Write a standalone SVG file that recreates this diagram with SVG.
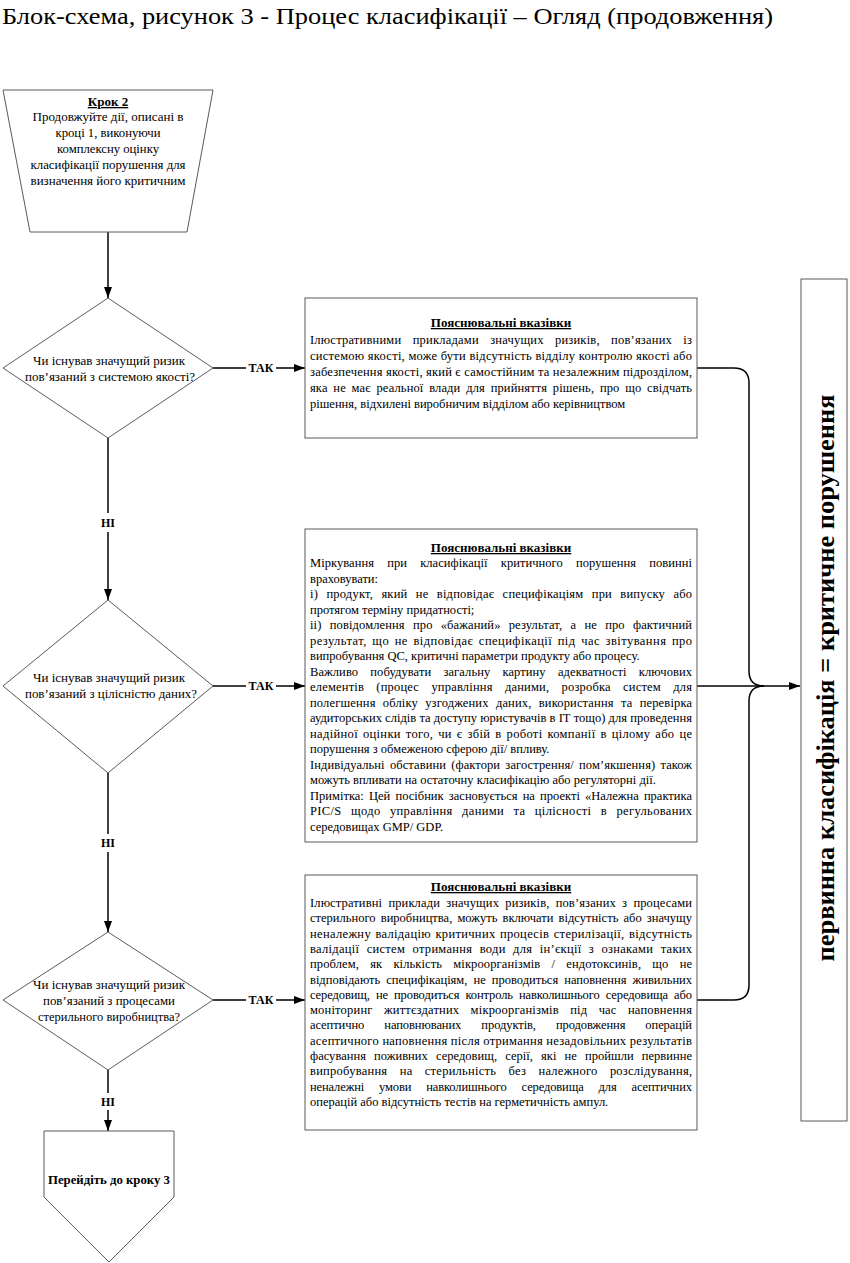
<svg xmlns="http://www.w3.org/2000/svg" width="850" height="1263" viewBox="0 0 850 1263">
<defs>
<marker id="ah" markerWidth="11" markerHeight="8" refX="11" refY="4" orient="auto" markerUnits="userSpaceOnUse"><path d="M0,0 L11,4 L0,8 z" fill="#000"/></marker>
<style>
.sh{fill:#fff;stroke:#5a5a5a;stroke-width:1}
text{font-family:"Liberation Serif","Times New Roman",serif;fill:#000}
.t{font-size:13px}
.n{font-size:12.5px}
.c{text-anchor:middle}
.b{font-weight:bold}
.u{text-decoration:underline}
.ln{fill:none;stroke:#000;stroke-width:1.5}
.ttl{font-size:23px}
.big{font-size:26px;font-weight:bold}
.lb{font-size:12px;font-weight:bold}
</style>
</defs>
<rect width="850" height="1263" fill="#fff"/>
<text class="ttl" x="2" y="24" textLength="771" lengthAdjust="spacingAndGlyphs">Блок-схема, рисунок 3  - Процес класифікації  – Огляд  (продовження)</text>

<g id="connectors">
<line class="ln" x1="108" y1="232" x2="108" y2="298" marker-end="url(#ah)"/>
<line class="ln" x1="108" y1="438" x2="108" y2="513"/>
<line class="ln" x1="108" y1="532" x2="108" y2="600" marker-end="url(#ah)"/>
<line class="ln" x1="108" y1="773" x2="108" y2="834"/>
<line class="ln" x1="108" y1="852" x2="108" y2="932" marker-end="url(#ah)"/>
<line class="ln" x1="108" y1="1070" x2="108" y2="1093"/>
<line class="ln" x1="108" y1="1110" x2="108" y2="1131" marker-end="url(#ah)"/>
<line class="ln" x1="213" y1="368" x2="246" y2="368"/>
<line class="ln" x1="276" y1="368" x2="305" y2="368" marker-end="url(#ah)"/>
<line class="ln" x1="213" y1="686" x2="246" y2="686"/>
<line class="ln" x1="276" y1="686" x2="305" y2="686" marker-end="url(#ah)"/>
<line class="ln" x1="213" y1="1000" x2="246" y2="1000"/>
<line class="ln" x1="276" y1="1000" x2="305" y2="1000" marker-end="url(#ah)"/>
<text class="lb c" x="261" y="372">ТАК</text>
<text class="lb c" x="261" y="690">ТАК</text>
<text class="lb c" x="261" y="1004">ТАК</text>
<text class="lb c" x="108" y="527">НІ</text>
<text class="lb c" x="108" y="847">НІ</text>
<text class="lb c" x="108" y="1106">НІ</text>
<line class="ln" x1="697" y1="686" x2="800" y2="686" marker-end="url(#ah)"/>
<path class="ln" d="M697,368 H734 Q749,368 749,383 V671 Q749,686 764,686"/>
<path class="ln" d="M697,1000 H734 Q749,1000 749,985 V701 Q749,686 764,686"/>
</g>

<g id="step2">
<polygon class="sh" points="3,90 213,90 187,232 30,232"/>
<text class="t b c u" x="108" y="106">Крок 2</text>
<text class="t c" x="108" y="121" textLength="151" lengthAdjust="spacingAndGlyphs">Продовжуйте дії, описані в</text>
<text class="t c" x="108" y="137" textLength="105" lengthAdjust="spacingAndGlyphs">кроці 1, виконуючи</text>
<text class="t c" x="108" y="153" textLength="102" lengthAdjust="spacingAndGlyphs">комплексну оцінку</text>
<text class="t c" x="108" y="169" textLength="155" lengthAdjust="spacingAndGlyphs">класифікації порушення для</text>
<text class="t c" x="108" y="185" textLength="155" lengthAdjust="spacingAndGlyphs">визначення його критичним</text>
</g>

<g id="q1">
<polygon class="sh" points="108,298 213,368 108,438 3,368"/>
<text class="t c" x="109" y="365" textLength="152" lengthAdjust="spacingAndGlyphs">Чи існував значущий ризик</text>
<text class="t c" x="110" y="381" textLength="170" lengthAdjust="spacingAndGlyphs">пов’язаний з системою якості?</text>
</g>

<g id="q2">
<polygon class="sh" points="108,600 213,686 108,773 3,686"/>
<text class="t c" x="109" y="682" textLength="152" lengthAdjust="spacingAndGlyphs">Чи існував значущий ризик</text>
<text class="t c" x="111" y="698" textLength="172" lengthAdjust="spacingAndGlyphs">пов’язаний з цілісністю даних?</text>
</g>

<g id="q3">
<polygon class="sh" points="108,932 213,1000 108,1070 3,1000"/>
<text class="t c" x="109" y="989" textLength="152" lengthAdjust="spacingAndGlyphs">Чи існував значущий ризик</text>
<text class="t c" x="109" y="1005" textLength="132" lengthAdjust="spacingAndGlyphs">пов’язаний з процесами</text>
<text class="t c" x="109" y="1021" textLength="142" lengthAdjust="spacingAndGlyphs">стерильного виробництва?</text>
</g>

<g id="note1">
<rect class="sh" x="305" y="298" width="392" height="140"/>
<text class="t b c u" x="501" y="327">Пояснювальні вказівки</text>
<text class="n" x="310" y="344" textLength="382" lengthAdjust="spacing" word-spacing="8">Ілюстративними прикладами значущих ризиків, пов’язаних із</text>
<text class="n" x="310" y="360" textLength="382" lengthAdjust="spacing">системою якості, може бути відсутність відділу контролю якості або</text>
<text class="n" x="310" y="376" textLength="382" lengthAdjust="spacing">забезпечення якості, який є самостійним та незалежним підрозділом,</text>
<text class="n" x="310" y="392" textLength="382" lengthAdjust="spacing" word-spacing="2.5">яка не має реальної влади для прийняття рішень, про що свідчать</text>
<text class="n" x="310" y="408">рішення, відхилені виробничим відділом або керівництвом</text>
</g>

<g id="note2">
<rect class="sh" x="305" y="529" width="392" height="313"/>
<text class="t b c u" x="501" y="552">Пояснювальні вказівки</text>
<text class="n" x="310" y="567" textLength="382" lengthAdjust="spacing" word-spacing="10">Міркування при класифікації критичного порушення повинні</text>
<text class="n" x="310" y="582.5">враховувати:</text>
<text class="n" x="310" y="598" textLength="382" lengthAdjust="spacing" word-spacing="5">і) продукт, який не відповідає специфікаціям при випуску або</text>
<text class="n" x="310" y="613.5">протягом терміну придатності;</text>
<text class="n" x="310" y="629" textLength="382" lengthAdjust="spacing" word-spacing="5">іі) повідомлення про «бажаний» результат, а не про фактичний</text>
<text class="n" x="310" y="644.5" textLength="382" lengthAdjust="spacing" word-spacing="2">результат, що не відповідає специфікації під час звітування про</text>
<text class="n" x="310" y="660">випробування QC, критичні параметри продукту або процесу.</text>
<text class="n" x="310" y="675.5" textLength="382" lengthAdjust="spacing" word-spacing="9">Важливо побудувати загальну картину адекватності ключових</text>
<text class="n" x="310" y="691" textLength="382" lengthAdjust="spacing" word-spacing="9">елементів (процес управління даними, розробка систем для</text>
<text class="n" x="310" y="706.5" textLength="382" lengthAdjust="spacing" word-spacing="4">полегшення обліку узгоджених даних, використання та перевірка</text>
<text class="n" x="310" y="722" textLength="382" lengthAdjust="spacing">аудиторських слідів та доступу юристувачів в ІТ тощо) для проведення</text>
<text class="n" x="310" y="737.5" textLength="382" lengthAdjust="spacing" word-spacing="1.5">надійної оцінки того, чи є збій в роботі компанії в цілому або це</text>
<text class="n" x="310" y="753">порушення з обмеженою сферою дії/ впливу.</text>
<text class="n" x="310" y="768.5" textLength="382" lengthAdjust="spacing" word-spacing="2">Індивідуальні обставини (фактори загострення/ пом’якшення) також</text>
<text class="n" x="310" y="784">можуть впливати на остаточну класифікацію або регуляторні дії.</text>
<text class="n" x="310" y="799.5" textLength="382" lengthAdjust="spacing" word-spacing="2">Примітка: Цей посібник засновується на проекті «Належна практика</text>
<text class="n" x="310" y="815" textLength="382" lengthAdjust="spacing" word-spacing="6">PIC/S щодо управління даними та цілісності в регульованих</text>
<text class="n" x="310" y="830.5">середовищах GMP/ GDP.</text>
</g>

<g id="note3">
<rect class="sh" x="305" y="875" width="392" height="255"/>
<text class="t b c u" x="501" y="891">Пояснювальні вказівки</text>
<text class="n" x="310" y="907" textLength="382" lengthAdjust="spacing" word-spacing="3">Ілюстративні приклади значущих ризиків, пов’язаних з процесами</text>
<text class="n" x="310" y="922.3" textLength="382" lengthAdjust="spacing" word-spacing="2">стерильного виробництва, можуть включати відсутність або значущу</text>
<text class="n" x="310" y="937.6" textLength="382" lengthAdjust="spacing" word-spacing="1">неналежну валідацію критичних процесів стерилізації, відсутність</text>
<text class="n" x="310" y="952.9" textLength="382" lengthAdjust="spacing" word-spacing="4">валідації систем отримання води для ін’єкції з ознаками таких</text>
<text class="n" x="310" y="968.2" textLength="382" lengthAdjust="spacing" word-spacing="8">проблем, як кількість мікроорганізмів / ендотоксинів, що не</text>
<text class="n" x="310" y="983.5" textLength="382" lengthAdjust="spacing" word-spacing="3">відповідають специфікаціям, не проводиться наповнення живильних</text>
<text class="n" x="310" y="998.8" textLength="382" lengthAdjust="spacing" word-spacing="3">середовищ, не проводиться контроль навколишнього середовища або</text>
<text class="n" x="310" y="1014.1" textLength="382" lengthAdjust="spacing" word-spacing="8">моніторинг життєздатних мікроорганізмів під час наповнення</text>
<text class="n" x="310" y="1029.4" textLength="382" lengthAdjust="spacing" word-spacing="17">асептично наповнюваних продуктів, продовження операцій</text>
<text class="n" x="310" y="1044.7" textLength="382" lengthAdjust="spacing">асептичного наповнення після отримання незадовільних результатів</text>
<text class="n" x="310" y="1060" textLength="382" lengthAdjust="spacing" word-spacing="5">фасування поживних середовищ,  серії, які не пройшли первинне</text>
<text class="n" x="310" y="1075.3" textLength="382" lengthAdjust="spacing" word-spacing="9">випробування на стерильність без належного розслідування,</text>
<text class="n" x="310" y="1090.6" textLength="382" lengthAdjust="spacing" word-spacing="12">неналежні умови навколишнього середовища для асептичних</text>
<text class="n" x="310" y="1105.9">операцій або відсутність тестів на герметичність ампул.</text>
</g>

<g id="result">
<rect class="sh" x="801" y="279" width="46" height="842"/>
<text class="big c" transform="translate(834,678) rotate(-90)" textLength="567" lengthAdjust="spacingAndGlyphs">первинна класифікація = критичне порушення</text>
</g>

<g id="step3">
<polygon class="sh" points="44,1131 174,1131 174,1197 109,1262 44,1197"/>
<text class="t b c" x="109" y="1184" textLength="122" lengthAdjust="spacingAndGlyphs">Перейдіть до кроку 3</text>
</g>
</svg>
